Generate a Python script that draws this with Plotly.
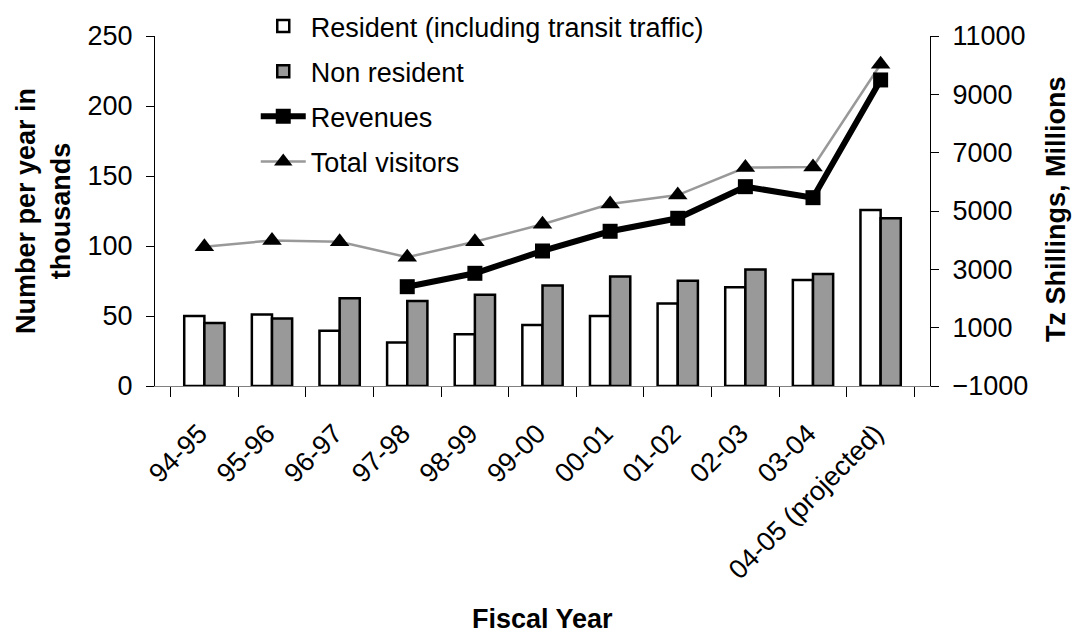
import plotly.graph_objects as go

years = ["94-95", "95-96", "96-97", "97-98", "98-99", "99-00", "00-01",
         "01-02", "02-03", "03-04", "04-05 (projected)"]
resident = [50, 51, 39.5, 31, 37, 43.6, 50, 59, 70.5, 75.7, 125.7]
non_resident = [45, 48.3, 62.6, 60.7, 65.2, 71.7, 78.3, 75.2, 83.3, 80, 119.8]
revenues = [None, None, None, 2405, 2864, 3629, 4305, 4750, 5834, 5457, 9493]
total_visitors = [99.5, 104, 103, 92, 103, 115.5, 130, 136.4, 156, 156.4, 229.8]

FONT = "Liberation Sans, Arial, sans-serif"
FS = 27

fig = go.Figure()
fig.add_trace(go.Bar(x=years, y=resident, name="Resident (including transit traffic)",
                     marker=dict(color="white", line=dict(color="black", width=2.5)),
                     legendgroup="a"))
fig.add_trace(go.Bar(x=years, y=non_resident, name="Non resident",
                     marker=dict(color="#999999", line=dict(color="black", width=2.5)),
                     legendgroup="b"))
fig.add_trace(go.Scatter(x=years, y=revenues, name="Revenues", yaxis="y2",
                         mode="lines+markers",
                         line=dict(color="black", width=6),
                         marker=dict(symbol="square", size=15, color="black"),
                         legendgroup="c"))
fig.add_trace(go.Scatter(x=years, y=total_visitors, name="Total visitors",
                         mode="lines+markers",
                         line=dict(color="#999999", width=2.5),
                         marker=dict(symbol="triangle-up", size=17, color="black"),
                         legendgroup="d"))

fig.update_layout(
    width=1073, height=637,
    margin=dict(l=155, r=143, t=36, b=251, autoexpand=False),
    paper_bgcolor="white", plot_bgcolor="white",
    font=dict(family=FONT, size=FS, color="black"),
    barmode="group", bargap=0.404, bargroupgap=0,
    showlegend=True,
    legend=dict(x=0.13, y=1.097, xanchor="left", yanchor="top",
                bgcolor="rgba(0,0,0,0)", font=dict(size=FS),
                tracegroupgap=7, itemwidth=45),
    xaxis=dict(type="category", tickangle=-45, tickson="boundaries",
               ticks="outside", ticklen=10, tickcolor="black",
               showline=True, linecolor="#808080", linewidth=1,
               showgrid=False, tickfont=dict(size=FS), automargin=False,
               ticklabelstandoff=20, ticklabelshift=-5),
    yaxis=dict(range=[0, 250], dtick=50, ticks="outside", ticklen=8,
               tickcolor="black", showline=True, linecolor="black", linewidth=1,
               showgrid=False, zeroline=False, tickfont=dict(size=FS),
               automargin=False, ticklabelstandoff=8),
    yaxis2=dict(range=[-1000, 11000], tick0=-1000, dtick=2000, overlaying="y",
                side="right", ticks="outside", ticklen=8, tickcolor="black",
                showline=True, linecolor="black", linewidth=1, showgrid=False,
                zeroline=False, tickfont=dict(size=FS), tickformat="d",
                automargin=False, ticklabelstandoff=8),
    annotations=[
        dict(text="<b>Number per year in<br>thousands</b>", x=43, y=211,
             xref="paper", yref="paper", showarrow=False, textangle=-90,
             font=dict(size=FS)),
        dict(text="<b>Tz Shillings, Millions</b>", x=1056, y=209,
             xref="paper", yref="paper", showarrow=False, textangle=-90,
             font=dict(size=FS)),
        dict(text="<b>Fiscal Year</b>", x=542, y=619,
             xref="paper", yref="paper", showarrow=False,
             font=dict(size=FS)),
    ],
)

# convert annotation pixel positions to paper coordinates
pw = 1073 - 155 - 143
ph = 637 - 36 - 251
for a in fig.layout.annotations:
    a.x = (a.x - 155) / pw
    a.y = (637 - 251 - a.y) / ph
    a.xanchor = "center"
    a.yanchor = "middle"

fig.write_html("out.html")
